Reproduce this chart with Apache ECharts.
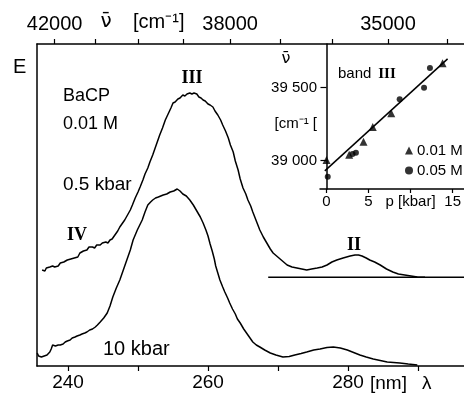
<!DOCTYPE html>
<html><head><meta charset="utf-8">
<script src="https://cdn.jsdelivr.net/npm/echarts@6/dist/echarts.min.js"></script>
<style>html,body{margin:0;padding:0;background:#fff}#c{width:464px;height:393px}</style>
</head><body><div id="c"></div>
<script>
// Main spectra: [wavelength nm, extinction E (arb. units)]
const upper05kbar = [[236.3,96],[236.5,98],[236.7,95],[236.9,98],[237.1,97],[237.4,99],[237.6,98],[237.8,100],[238.1,99],[238.3,101],[238.6,100],[238.9,103],[239.1,102],[239.4,104],[239.6,103],[239.9,106],[240.1,105],[240.4,107],[240.6,109],[240.9,108],[241.1,110],[241.4,109],[241.7,113],[241.9,112],[242.2,115],[242.4,114],[242.7,116],[243.0,119],[243.2,117],[243.5,119],[243.8,118],[244.1,121],[244.3,119],[244.6,121],[244.9,123],[245.1,122],[245.4,124],[245.7,123],[246.0,126],[246.3,127],[246.7,131],[247.1,135],[247.4,139],[247.8,143],[248.1,146],[248.5,151],[248.9,156],[249.2,161],[249.6,168],[250.0,174],[250.3,179],[250.7,186],[251.0,192],[251.4,198],[251.7,204],[252.1,211],[252.4,217],[252.7,223],[253.1,231],[253.5,238],[253.9,246],[254.3,252],[254.7,258],[255.0,263],[255.3,264],[255.7,267],[256.0,268],[256.4,271],[256.7,270],[257.0,272],[257.2,271],[257.4,273],[257.7,272],[258.0,273],[258.2,271],[258.4,272],[258.7,269],[259.0,268],[259.3,266],[259.6,265],[260.0,262],[260.3,261],[260.7,259],[261.0,255],[261.4,251],[261.8,246],[262.1,241],[262.5,235],[262.9,228],[263.2,221],[263.6,214],[263.9,205],[264.3,196],[264.6,187],[265.0,178],[265.4,172],[265.7,166],[266.1,160],[266.4,154],[266.9,145],[267.4,136],[267.9,129],[268.4,123],[268.9,117],[269.3,113],[269.8,110],[270.3,107],[270.8,104],[271.3,101],[272.0,99],[272.7,98],[273.4,97],[274.1,96],[274.8,97],[275.6,98],[276.3,99],[277.0,101],[277.7,104],[278.4,106],[279.3,108],[280.3,110],[281.0,111],[281.5,111],[282.0,110],[282.6,108],[283.1,106],[283.8,104],[284.6,101],[285.5,97],[286.4,94],[287.2,92],[288.1,91],[289.0,90],[289.9,89],[291.0,88.7]];
const lower10kbar = [[235.6,13],[235.8,10],[236.0,11],[236.2,9],[236.4,11],[236.6,10],[236.8,12],[237.0,11],[237.2,13],[237.4,14],[237.6,17],[237.8,21],[238.0,19],[238.2,20],[238.4,18],[238.6,21],[238.9,21],[239.1,23],[239.3,22],[239.6,24],[239.9,25],[240.1,27],[240.3,26],[240.6,28],[240.8,27],[241.0,29],[241.3,30],[241.5,29],[241.7,31],[242.0,32],[242.2,31],[242.4,33],[242.7,34],[242.9,35],[243.1,36],[243.5,37],[243.9,39],[244.2,41],[244.6,44],[245.1,48],[245.6,53],[246.0,60],[246.4,69],[246.9,78],[247.4,86],[247.9,96],[248.4,106],[248.9,116],[249.3,126],[249.9,136],[250.6,146],[251.0,154],[251.4,161],[251.8,164],[252.1,166],[252.5,168],[252.9,169],[253.6,171],[254.1,172],[254.6,174],[255.1,175],[255.6,177],[256.0,175],[256.4,172],[256.9,170],[257.4,166],[257.9,161],[258.4,155],[258.9,149],[259.3,143],[259.7,136],[260.0,130],[260.3,122],[260.6,115],[260.9,107],[261.1,100],[261.4,93],[261.7,86],[262.1,79],[262.4,74],[262.8,68],[263.1,63],[263.5,57],[263.9,52],[264.2,47],[264.6,43],[265.1,37],[265.6,32],[266.0,28],[266.4,24],[266.9,21],[267.4,19],[268.1,16],[268.9,13],[269.7,11],[270.7,9],[271.6,9.5],[272.4,11],[273.3,12.5],[274.1,14],[275.1,16],[276.0,17],[277.0,18.5],[277.9,19],[278.9,18],[279.9,16],[280.8,13.5],[281.7,11],[282.6,9],[283.6,7],[284.6,5.5],[285.6,4],[286.5,3.5],[287.4,3],[288.6,2],[289.9,1]];
const baseline05kbar = [[268.6,88.7],[296.6,88.7]];

// Axis ticks and labels
const nmTicks = [240,250,260,270,280,290];
const nmLabels = [240,260,280];
const wnTicks = [42000,41000,40000,39000,38000,37000,36000,35000,34000];
const wnLabels = [42000,38000,35000];

// Inset: band III position vs pressure
const pTicks = [0,5,10,15];
const nuTicks = [39000,39500];
const nuLabels = [39000,39250,39500];
const band01M = [[0.0,39005],[2.7,39040],[4.4,39130],[5.5,39230],[7.7,39325],[13.8,39667]];
const band05M = [[0.15,38890],[3.1,39046],[3.5,39055],[8.7,39420],[11.6,39500],[12.3,39635]];
const bandFit = [[-0.2,38930],[14.4,39697]];

const FONT = "'Liberation Sans', Arial, sans-serif";
const SERIF = "'Liberation Serif', 'DejaVu Serif', serif";
const K = '#000';

const chart = echarts.init(document.getElementById('c'), null, {renderer:'canvas'});

function txt(text, x, y, size, opts) {
  opts = opts || {};
  return {type:'text', x:x, y:y, silent:true, style:{text:text, fill:K, fontSize:size,
    fontFamily:opts.family||FONT, fontWeight:opts.weight||'normal',
    textAlign:opts.align||'left', textVerticalAlign:'middle'}};
}

const lineSeries = (data, xi, yi) => ({type:'line', data:data, xAxisIndex:xi, yAxisIndex:yi,
  showSymbol:false, symbol:'none', smooth:false, lineStyle:{color:K, width:1.5}, animation:false, z:3});

chart.setOption({
  backgroundColor:'#fff',
  animation:false,
  grid:[
    {left:37, right:0, top:44, bottom:27},
    {left:320, right:0, top:44, bottom:204}
  ],
  xAxis:[
    {gridIndex:0, type:'value', position:'bottom', min:235.57, max:296.57,
      axisLine:{lineStyle:{color:K, width:1.5}},
      axisTick:{customValues:nmTicks, length:5, lineStyle:{color:K, width:1.2}},
      axisLabel:{customValues:nmLabels, color:K, fontSize:19, fontFamily:FONT, margin:7},
      splitLine:{show:false}},
    {gridIndex:0, type:'value', position:'top', min:235.57, max:296.57,
      axisLine:{lineStyle:{color:K, width:1.5}},
      axisTick:{customValues:wnTicks.map(w => 1e7/w), length:5, lineStyle:{color:K, width:1.2}},
      axisLabel:{customValues:wnLabels.map(w => 1e7/w), color:K, fontSize:20, fontFamily:FONT, margin:10,
        formatter: v => String(Math.round(1e7/v/1000)*1000)},
      splitLine:{show:false}},
    {gridIndex:1, type:'value', min:-0.77, max:16.3,
      axisLine:{lineStyle:{color:K, width:1.5}},
      axisTick:{customValues:pTicks, length:4, lineStyle:{color:K, width:1.2}},
      axisLabel:{customValues:pTicks, color:K, fontSize:15, fontFamily:FONT, margin:5,
        formatter: v => v === 10 ? 'p [kbar]' : String(v)},
      splitLine:{show:false}}
  ],
  yAxis:[
    {gridIndex:0, type:'value', min:0, max:322,
      axisLine:{show:true, lineStyle:{color:K, width:1.5}},
      axisTick:{show:false}, axisLabel:{show:false}, splitLine:{show:false}},
    {gridIndex:1, type:'value', min:38806, max:39799,
      axisLine:{show:true, lineStyle:{color:K, width:1.5}},
      axisTick:{customValues:nuTicks, length:6, lineStyle:{color:K, width:1.2}},
      axisLabel:{customValues:nuLabels, color:K, fontSize:15, fontFamily:FONT, margin:3,
        formatter: v => v === 39250 ? '[cm\u207B\u00B9 [' : String(v).slice(0,2) + ' ' + String(v).slice(2)},
      splitLine:{show:false}}
  ],
  legend:{show:true, orient:'vertical', left:405, top:143, itemGap:5, itemWidth:8, itemHeight:8,
    data:['0.01 M','0.05 M'], textStyle:{color:K, fontSize:15, fontFamily:FONT, padding:[0,0,0,-1]},
    selectedMode:false, padding:0},
  series:[
    Object.assign(lineSeries(upper05kbar,0,0), {name:'0.5 kbar'}),
    Object.assign(lineSeries(lower10kbar,0,0), {name:'10 kbar'}),
    Object.assign(lineSeries(baseline05kbar,0,0), {name:'baseline'}),
    Object.assign(lineSeries(bandFit,2,1), {name:'fit', lineStyle:{color:K, width:1.5}}),
    {type:'scatter', name:'0.01 M', data:band01M, xAxisIndex:2, yAxisIndex:1, symbol:'triangle', symbolSize:8,
      itemStyle:{color:K}, z:4},
    {type:'scatter', name:'0.05 M', data:band05M, xAxisIndex:2, yAxisIndex:1, symbol:'circle', symbolSize:6,
      itemStyle:{color:K}, z:4}
  ],
  graphic:[
    txt('E', 13, 67, 20),
    txt('BaCP', 63, 96, 18),
    txt('0.01 M', 63, 124, 18),
    txt('0.5 kbar', 63, 185, 19),
    txt('10 kbar', 103, 349, 20),
    txt('III', 192, 78, 18, {family:SERIF, align:'center', weight:'bold'}),
    txt('IV', 77, 235, 18, {family:SERIF, align:'center', weight:'bold'}),
    txt('II', 354, 245, 18, {family:SERIF, align:'center', weight:'bold'}),
    txt('band', 338, 74, 15),
    txt('III', 387, 74, 15, {family:SERIF, align:'center', weight:'bold'}),
    txt('\u03BD\u0304', 286, 59, 16, {family:"'DejaVu Sans', sans-serif", align:'center'}),
    txt('\u03BD\u0304', 106, 22, 20, {family:"'DejaVu Sans', sans-serif", align:'center'}),
    txt('[cm\u207B\u00B9]', 133, 22, 20),
    txt('[nm]', 370, 384, 19),
    txt('\u03BB', 422, 384, 19)
  ]
});
</script></body></html>
